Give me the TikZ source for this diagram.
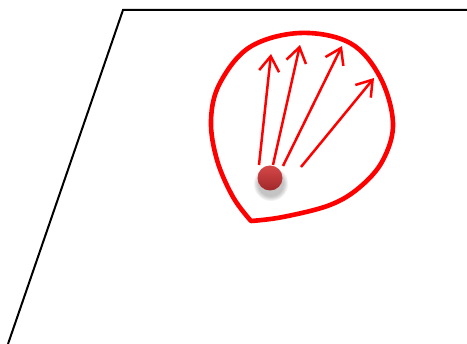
\documentclass[tikz,border=0pt]{standalone}
\usetikzlibrary{arrows.meta}
\begin{document}
\begin{tikzpicture}[x=1pt,y=-1pt,
  planeline/.style={line width=2pt,black},
  drop/.style={line width=4.6pt,red,line join=round},
  ray/.style={line width=2.5pt,red,-{Straight Barb[length=15pt,width=20pt]}}]
\useasboundingbox (0,0) rectangle (467,344);
\coordinate (p0) at (8,344);
\coordinate (p1) at (123,10);
\coordinate (p2) at (467,10);
\draw[planeline] (p0) -- (p1) -- (p2);
\draw[drop] plot[smooth,tension=0.6] coordinates {(251,221) (233,197) (217,160) (211,120) (220,83) (250,47) (300,33) (350,43) (380,77) (393,123) (383,160) (360,187) (330,205) (283,217) (251,221)} -- cycle;
% soft shadow
\foreach \r in {17,16,15,14,13} {\fill[black,opacity=0.05] (271,184) circle (\r);}
\shade[top color={rgb,255:red,214;green,72;blue,72},bottom color={rgb,255:red,160;green,40;blue,42}] (270,178) circle (12.5);
\node[circle,minimum size=25pt,inner sep=0pt] (ball) at (270,178) {};
\coordinate (s1) at (259,165); \coordinate (t1) at (271,54);
\coordinate (s2) at (273,165); \coordinate (t2) at (300,45);
\coordinate (s3) at (283,166); \coordinate (t3) at (342,46);
\coordinate (s4) at (301,167); \coordinate (t4) at (374,78);
\draw[ray] (s1) -- (t1);
\draw[ray] (s2) -- (t2);
\draw[ray] (s3) -- (t3);
\draw[ray] (s4) -- (t4);
\end{tikzpicture}
\end{document}
